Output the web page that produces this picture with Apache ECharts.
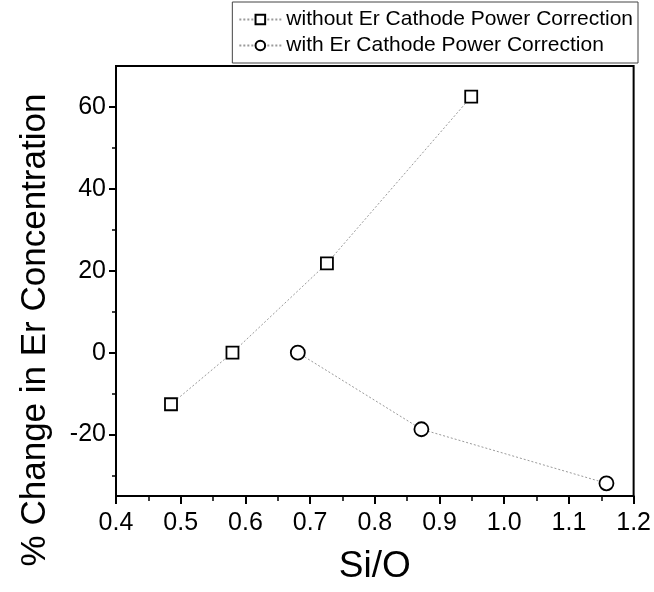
<!DOCTYPE html>
<html>
<head>
<meta charset="utf-8">
<script src="https://cdn.jsdelivr.net/npm/echarts@6/dist/echarts.min.js"></script>
<style>
html,body{margin:0;padding:0;background:#fff;}
#chart{width:654px;height:592px;}
</style>
</head>
<body>
<div id="chart"></div>
<script>
const seriesNames = ['without Er Cathode Power Correction', 'with Er Cathode Power Correction'];
const withoutX = [0.485, 0.580, 0.726, 0.949];
const withoutY = [-12.6, 0, 21.8, 62.5];
const withX = [0.681, 0.872, 1.158];
const withY = [0, -18.7, -31.9];
const yMajorTicks = [-20, 0, 20, 40, 60];
const yMinorTicks = [-30, -10, 10, 30, 50];
const xTitle = 'Si/O';
const yTitle = '% Change in Er Concentration';

const FONT = 'Liberation Sans, Arial, sans-serif';
const chart = echarts.init(document.getElementById('chart'), null, {renderer: 'canvas'});
const pairs = (xs, ys) => xs.map((x, i) => [x, ys[i]]);

chart.setOption({
  animation: false,
  backgroundColor: '#fff',
  grid: {left: 116, right: 20, top: 66, bottom: 96, show: true, borderColor: '#000', borderWidth: 2, backgroundColor: 'transparent'},
  legend: {
    top: 2, right: 16, orient: 'vertical', itemGap: 5,
    itemWidth: 42, itemHeight: 12,
    padding: [7, 5, 7, 6],
    borderColor: '#444', borderWidth: 1,
    textStyle: {fontFamily: FONT, fontSize: 21, color: '#000'},
    data: seriesNames
  },
  graphic: [{
    type: 'text', x: 35, y: 330, rotation: Math.PI / 2,
    style: {text: yTitle, font: '35px ' + FONT, fill: '#000', align: 'center', verticalAlign: 'middle'}
  }],
  xAxis: {
    type: 'value', min: 0.4, max: 1.2, interval: 0.1,
    name: xTitle, nameLocation: 'middle', nameGap: 52,
    nameTextStyle: {fontFamily: FONT, fontSize: 37, color: '#000'},
    axisLine: {show: true, onZero: false, lineStyle: {color: '#000', width: 2}},
    axisTick: {show: true, inside: false, length: 8, lineStyle: {color: '#000', width: 2}},
    minorTick: {show: true, splitNumber: 2, length: 5, lineStyle: {color: '#000', width: 1.5}},
    axisLabel: {fontFamily: FONT, fontSize: 25, color: '#000', margin: 15, formatter: v => v.toFixed(1)},
    splitLine: {show: false}
  },
  yAxis: [{
    type: 'value', min: -35, max: 70,
    axisLine: {show: true, onZero: false, lineStyle: {color: '#000', width: 2}},
    axisTick: {show: true, inside: false, length: 7, customValues: yMajorTicks, lineStyle: {color: '#000', width: 2}},
    axisLabel: {fontFamily: FONT, fontSize: 25, color: '#000', margin: 10, customValues: yMajorTicks},
    splitLine: {show: false}
  }, {
    type: 'value', min: -35, max: 70, position: 'left',
    axisLine: {show: false, onZero: false},
    axisTick: {show: true, inside: false, length: 4, customValues: yMinorTicks, lineStyle: {color: '#000', width: 1.5}},
    axisLabel: {show: false},
    splitLine: {show: false}
  }],
  series: [{
    name: seriesNames[0], type: 'line', yAxisIndex: 0,
    data: pairs(withoutX, withoutY),
    symbol: 'rect', symbolSize: 12,
    lineStyle: {color: '#9a9a9a', width: 1, type: [2, 2]},
    itemStyle: {color: '#fff', borderColor: '#000', borderWidth: 1.8}
  }, {
    name: seriesNames[1], type: 'line', yAxisIndex: 0,
    data: pairs(withX, withY),
    symbol: 'circle', symbolSize: 14,
    lineStyle: {color: '#9a9a9a', width: 1, type: [2, 2]},
    itemStyle: {color: '#fff', borderColor: '#000', borderWidth: 1.8}
  }]
});
</script>
</body>
</html>
